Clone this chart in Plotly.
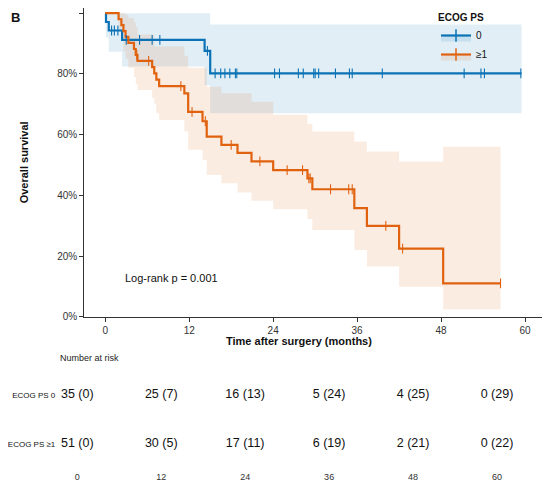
import numpy as np
import plotly.graph_objects as go

# ---------------- data ----------------
# ECOG PS 0 Kaplan-Meier step curve
blue_time  = [0, 0.1, 0.5, 2.4, 14.2, 15.0, 59.5]
blue_surv  = [1.0, 0.971, 0.943, 0.912, 0.876, 0.802, 0.802]
blue_upper = [1.0, 1.0, 1.0, 1.0, 1.0, 0.963, 0.963]
blue_lower = [1.0, 0.92, 0.873, 0.824, 0.763, 0.670, 0.670]
blue_censor = [0.9, 1.3, 1.8, 3.0, 4.9, 6.7, 7.8, 14.6, 15.7, 16.5, 17.1, 17.8,
               18.6, 18.8, 24.2, 24.9, 27.6, 28.3, 29.8, 30.0, 30.5, 32.9, 34.9,
               35.3, 39.6, 51.3, 53.7, 54.2, 59.4]

# ECOG PS >=1 Kaplan-Meier step curve
orange_time  = [0, 1.9, 2.3, 2.6, 2.9, 3.3, 4.1, 4.35, 4.6, 6.7, 7.0, 7.3, 7.7,
                11.3, 11.85, 13.9, 14.5, 16.6, 18.9, 20.9, 24.0, 28.9, 29.6,
                35.6, 37.4, 42.0, 48.3, 56.5]
orange_surv  = [1.0, 0.980, 0.961, 0.941, 0.922, 0.902, 0.882, 0.863, 0.843,
                0.822, 0.802, 0.781, 0.760, 0.736, 0.675, 0.644, 0.593, 0.566,
                0.540, 0.512, 0.483, 0.456, 0.420, 0.358, 0.299, 0.224, 0.110, 0.110]
orange_upper = [1.0, 1.0, 1.0, 1.0, 0.995, 0.984, 0.97, 0.955, 0.93, 0.93, 0.89,
                0.89, 0.89, 0.86, 0.82, 0.82, 0.758, 0.736, 0.736, 0.708, 0.665,
                0.635, 0.61, 0.577, 0.544, 0.511, 0.56, 0.56]
orange_lower = [1.0, 0.94, 0.91, 0.875, 0.85, 0.82, 0.79, 0.765, 0.747, 0.72, 0.70,
                0.67, 0.648, 0.61, 0.55, 0.516, 0.467, 0.44, 0.409, 0.382, 0.354,
                0.322, 0.286, 0.22, 0.165, 0.099, 0.024, 0.024]
orange_censor = [4.5, 6.2, 10.8, 12.4, 14.3, 18.0, 22.1, 26.0, 28.2, 29.1, 29.3,
                 32.2, 34.8, 35.3, 40.1, 42.5, 56.5]

# number at risk table
risk_times = [0, 12, 24, 36, 48, 60]
risk_ps0 = ["35 (0)", "25 (7)", "16 (13)", "5 (24)", "4 (25)", "0 (29)"]
risk_ps1 = ["51 (0)", "30 (5)", "17 (11)", "6 (19)", "2 (21)", "0 (22)"]
risk_rows = ["ECOG PS ≥1", "ECOG PS 0"]

x_ticks = [0, 12, 24, 36, 48, 60]
y_ticks = [0, 0.2, 0.4, 0.6, 0.8, 1.0]
y_ticktext = ["0%", "20%", "40%", "60%", "80%", "100%"]

BLUE = "#0A72B5"
ORANGE = "#E0620E"
BLUE_FILL = "rgba(10,114,181,0.12)"
ORANGE_FILL = "rgba(224,98,14,0.12)"
FONT = "Liberation Sans, Arial, sans-serif"

# the page body has an 8 px margin: the figure is drawn at (8, 8) in the window
OFF = 8
W, H = 550 - OFF, 484 - OFF


def fx(px):  # window pixel -> paper x
    return min(1.0, max(0.0, (px - OFF) / W))


def fy(py):  # window pixel -> paper y
    return min(1.0, max(0.0, 1 - (py - OFF) / H))


def step_value(times, values, t):
    idx = np.searchsorted(np.asarray(times), t, side="right") - 1
    return [values[i] for i in idx]


fig = go.Figure()

# confidence bands
for t, lo, up, fc in [(blue_time, blue_lower, blue_upper, BLUE_FILL),
                      (orange_time, orange_lower, orange_upper, ORANGE_FILL)]:
    fig.add_trace(go.Scatter(x=t, y=lo, mode="lines", line=dict(width=0, shape="hv"),
                             showlegend=False, hoverinfo="skip"))
    fig.add_trace(go.Scatter(x=t, y=up, mode="lines", line=dict(width=0, shape="hv"),
                             fill="tonexty", fillcolor=fc, showlegend=False,
                             hoverinfo="skip"))

# survival curves
for t, s, c in [(blue_time, blue_surv, BLUE), (orange_time, orange_surv, ORANGE)]:
    fig.add_trace(go.Scatter(x=t, y=s, mode="lines", line=dict(color=c, width=2.2, shape="hv"),
                             showlegend=False))

# censor marks
for cens, t, s, c in [(blue_censor, blue_time, blue_surv, BLUE),
                      (orange_censor, orange_time, orange_surv, ORANGE)]:
    fig.add_trace(go.Scatter(x=cens, y=step_value(t, s, cens), mode="markers",
                             marker=dict(symbol="line-ns", size=7,
                                         line=dict(color=c, width=1.1)),
                             showlegend=False))

# legend entries
for name, c, fc in [("0", BLUE, BLUE_FILL), ("≥1", ORANGE, ORANGE_FILL)]:
    fig.add_trace(go.Scatter(x=[None], y=[None], mode="lines+markers", name=name,
                             line=dict(color=c, width=2.2),
                             marker=dict(symbol="line-ns", size=9,
                                         line=dict(color=c, width=1.5)),
                             fill="toself", fillcolor=fc))

# risk table
for row_y, labels in [(1, risk_ps0), (0, risk_ps1)]:
    fig.add_trace(go.Scatter(x=risk_times, y=[row_y] * len(risk_times), text=labels,
                             mode="text", textposition="middle center",
                             textfont=dict(size=12.5, color="#111", family=FONT),
                             xaxis="x2", yaxis="y2", showlegend=False))

# main y axis: 0% at window y 316.7, 100% at 13.2; panel top at the figure top
pct_px = (316.7 - 13.2)
y1_top = max(OFF, 6.7)
y1_range = [0, (316.7 - y1_top) / pct_px]

# risk-table y axis: row 1 at window y 395, row 0 at 444.3
row_px = 444.3 - 395.0
y2_bottom, y2_top = 470.0, 338.8
y2_range = [(444.3 - y2_bottom) / row_px, (444.3 - y2_top) / row_px]

axis_col = "#333333"
fig.update_layout(
    width=W, height=H,
    margin=dict(l=0, r=0, t=0, b=0, autoexpand=False),
    paper_bgcolor="white", plot_bgcolor="white",
    font=dict(family=FONT, color="#111"),
    xaxis=dict(domain=[fx(84.3), fx(546)], range=[-3, 63], tickvals=x_ticks,
               ticks="outside", ticklen=4, tickcolor=axis_col, tickwidth=1.1,
               showline=True, linecolor=axis_col, linewidth=1.3,
               showgrid=False, zeroline=False,
               tickfont=dict(size=10, color="#333"), anchor="y"),
    yaxis=dict(domain=[fy(316.7), fy(y1_top)], range=y1_range,
               tickvals=y_ticks, ticktext=y_ticktext,
               ticks="outside", ticklen=4, tickcolor=axis_col, tickwidth=1.1,
               showline=True, linecolor=axis_col, linewidth=1.3,
               showgrid=False, zeroline=False,
               tickfont=dict(size=10, color="#333"), anchor="x",
               title=dict(text="<b>Overall survival</b>", font=dict(size=11, color="#111"),
                          standoff=26)),
    xaxis2=dict(domain=[fx(56.3), fx(518)], range=[-3, 63], tickvals=x_ticks,
                ticks="", showline=False, showgrid=False, zeroline=False,
                tickfont=dict(size=9, color="#333"), anchor="y2"),
    yaxis2=dict(domain=[fy(y2_bottom), fy(y2_top)], range=y2_range,
                tickvals=[0, 1], ticktext=risk_rows, ticks="", showline=False,
                showgrid=False, zeroline=False, tickfont=dict(size=8, color="#111"),
                anchor="x2"),
    legend=dict(x=fx(436), y=fy(8), xanchor="left", yanchor="top",
                traceorder="normal",
                title=dict(text="<b>ECOG PS</b>", font=dict(size=10)),
                font=dict(size=10), bgcolor="rgba(0,0,0,0)", tracegroupgap=0,
                itemwidth=30),
    annotations=[
        dict(text="<b>B</b>", x=fx(15), y=fy(8), xref="paper", yref="paper",
             xanchor="center", yanchor="top",
             showarrow=False, font=dict(size=13, color="#111")),
        dict(text="Log-rank p = 0.001", x=2.5, y=0.127, xref="x", yref="y",
             xanchor="left", yanchor="middle", showarrow=False,
             font=dict(size=11, color="#111")),
        dict(text="<b>Time after surgery (months)</b>", x=fx(299), y=fy(341),
             xref="paper", yref="paper", xanchor="center", yanchor="middle",
             showarrow=False, font=dict(size=11, color="#111")),
        dict(text="Number at risk", x=fx(58), y=fy(357.7), xref="paper",
             yref="paper", xanchor="left", yanchor="middle", showarrow=False,
             font=dict(size=9, color="#222")),
    ],
)

fig.write_html("out.html")
